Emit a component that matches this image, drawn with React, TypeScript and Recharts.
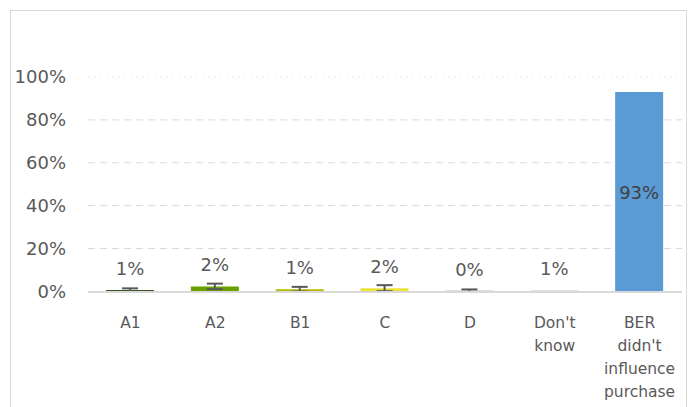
import React from 'react';
import { BarChart, Bar, XAxis, YAxis, CartesianGrid, Cell, ErrorBar, LabelList } from 'recharts';

const categories = ['A1', 'A2', 'B1', 'C', 'D', "Don't\nknow", "BER\ndidn't\ninfluence\npurchase"];
const shares = [0.006, 0.023, 0.01, 0.015, 0.003, 0.005, 0.93];
const errors = [0.008, 0.013, 0.011, 0.014, 0.006, 0, 0];
const barColors = ['#375623', '#6a9f00', '#b8b800', '#ece23c', '#7f7f7f', '#d9d9d9', '#5b9bd5'];
const yTicks = [0, 0.2, 0.4, 0.6, 0.8, 1];
const gridValues = [0.2, 0.4, 0.6, 0.8];

const data = categories.map((name, i) => ({
  name,
  value: shares[i],
  error: errors[i],
}));

const FONT = '"DejaVu Sans", sans-serif';
const TEXT = '#595959';

const XTick = (props: any) => {
  const { x, y, payload } = props;
  const lines = String(payload.value).split('\n');
  return (
    <text x={x} y={y} textAnchor="middle" fill={TEXT} fontSize={15.5} fontFamily={FONT}>
      {lines.map((line, i) => (
        <tspan key={i} x={x} dy={i === 0 ? 36 : 23}>
          {line}
        </tspan>
      ))}
    </text>
  );
};

const ValueLabel = (props: any) => {
  const { x, y, width, height, value } = props;
  const text = `${Math.round(value * 100)}%`;
  // big bars get their label inside, small ones above
  if (value > 0.5) {
    return (
      <text x={x + width / 2} y={y + height / 2 + 7} textAnchor="middle" fill="#404040" fontSize={18} fontFamily={FONT}>
        {text}
      </text>
    );
  }
  return (
    <text x={x + width / 2} y={y - 15} textAnchor="middle" fill={TEXT} fontSize={18} fontFamily={FONT}>
      {text}
    </text>
  );
};

const App: React.FC = () => {
  return (
    <div style={{ position: 'absolute', left: 0, top: 0, width: 688, height: 407, overflow: 'hidden', background: '#fff' }}>
      <div
        style={{
          position: 'absolute',
          left: 10,
          top: 10,
          width: 675,
          height: 420,
          border: '1px solid #d9d9d9',
        }}
      />
      <div style={{ position: 'absolute', left: 0, top: 0 }}>
        <BarChart width={688} height={407} data={data} margin={{ top: 77, right: 6, left: 0, bottom: 0 }} barSize={48}>
          {/* the 100% line is barely visible in the original, so it gets its own faint grid */}
          <CartesianGrid vertical={false} horizontalValues={[1]} stroke="#ececec" strokeDasharray="2 4" />
          <CartesianGrid vertical={false} horizontalValues={gridValues} stroke="#d9d9d9" strokeDasharray="7 5" />
          <XAxis
            dataKey="name"
            interval={0}
            height={115}
            tickLine={false}
            tickSize={0}
            tickMargin={0}
            axisLine={{ stroke: '#d9d9d9', strokeWidth: 2 }}
            tick={<XTick />}
          />
          <YAxis
            width={88}
            domain={[0, 1]}
            ticks={yTicks}
            axisLine={false}
            tickLine={false}
            tickSize={0}
            tickMargin={22}
            tickFormatter={(v: number) => `${Math.round(v * 100)}%`}
            tick={{ fill: TEXT, fontSize: 18, fontFamily: FONT }}
          />
          <Bar dataKey="value" isAnimationActive={false}>
            {data.map((d, i) => (
              <Cell key={d.name} fill={barColors[i]} />
            ))}
            <ErrorBar dataKey="error" width={8} stroke="#595959" strokeWidth={2} direction="y" />
            <LabelList dataKey="value" content={<ValueLabel />} />
          </Bar>
        </BarChart>
      </div>
    </div>
  );
};

export default App;
